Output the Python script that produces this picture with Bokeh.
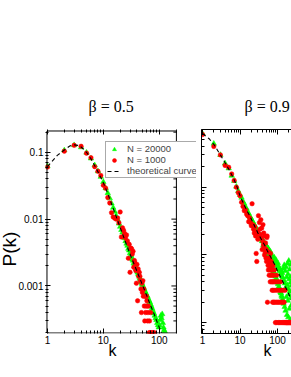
from bokeh.plotting import figure
from bokeh.models import (LogAxis, Legend, LegendItem, CustomJSTickFormatter, Range1d, LogTicker,
                          FixedTicker, Title, BoxAnnotation)
from bokeh.layouts import row
from bokeh.embed import file_html
from bokeh.resources import INLINE

L_TITLE = "β = 0.5"
R_TITLE = "β = 0.9"
X_LABEL = "k"
Y_LABEL = "P(k)"
LEGEND_LABELS = ["N = 20000", "N = 1000", "theoretical curve"]

L_CURVE_K = [1, 1.5, 2, 2.5, 3, 3.5, 4, 5, 6, 7, 8, 9, 10, 12, 15, 20, 25, 30, 40, 50, 60, 70, 80, 90, 100, 110]
L_CURVE_P = [0.061, 0.09, 0.108, 0.124, 0.129, 0.127, 0.12, 0.1, 0.08, 0.063, 0.051, 0.042, 0.035, 0.024, 0.0145,
             0.0075, 0.0045, 0.0030, 0.00165, 0.00104, 0.00071, 0.00051, 0.00039, 0.00030, 0.00024, 0.0002]

L_G_K = [1, 2, 3, 4, 5, 6, 7, 8, 9, 10, 11, 12, 13, 14, 15, 16, 17, 18, 19, 20,
         21, 22, 23, 24, 25, 26, 27, 28, 29, 30, 31, 32, 33, 34, 35, 36, 37, 38, 39, 40,
         41, 42, 43, 44, 45, 46, 47, 48, 49, 50, 52, 54, 56, 58, 60, 62, 64, 66, 68, 70,
         72, 74, 76, 78, 80, 83, 86, 89, 92, 95, 98, 101, 104, 107, 110, 113, 116, 119, 122, 125]
L_G_P = [0.062, 0.107, 0.128, 0.119, 0.099, 0.081, 0.064, 0.052, 0.043, 0.036, 0.029, 0.0245, 0.0205, 0.0172,
         0.0148, 0.0129, 0.0112, 0.0099, 0.0086, 0.0077, 0.0069, 0.0063, 0.0057, 0.0052, 0.0047, 0.0043, 0.0040,
         0.0036, 0.0034, 0.0031, 0.0029, 0.0027, 0.0025, 0.0024, 0.0022, 0.0021, 0.0020, 0.0019, 0.0018, 0.0017,
         0.0016, 0.00152, 0.00146, 0.00138, 0.0013, 0.00126, 0.00118, 0.00114, 0.00108, 0.00104, 0.00097, 0.0009,
         0.00083, 0.00078, 0.00072, 0.00069, 0.00064, 0.0006, 0.00057, 0.00053, 0.0005, 0.00047, 0.00044, 0.00041,
         0.00039, 0.00036, 0.00033, 0.00031, 0.00028, 0.00026, 0.00024, 0.00026, 0.00031, 0.00036, 0.00033,
         0.00038, 0.00028, 0.00024, 0.00022, 0.00021]

L_R_K = [1, 2, 3, 4, 5, 6, 7, 8, 9, 10, 11, 12, 13, 14, 15, 16, 17, 18, 19, 20,
         21, 22, 23, 24, 25, 26, 27, 28, 29, 30, 31, 32, 33, 34, 35, 36, 37, 38, 39, 40,
         41, 42, 43, 44, 45, 46, 47, 48, 49, 50, 51, 52, 53, 54, 55, 56, 57, 58, 59, 60,
         61, 62, 63, 64, 66, 67, 68, 70, 72, 75, 78, 82]
L_R_P = [0.060, 0.104, 0.127, 0.123, 0.097, 0.083, 0.061, 0.052, 0.045, 0.032, 0.029, 0.021, 0.0175, 0.0125,
         0.0108, 0.0103, 0.0100, 0.0104, 0.0088, 0.0128, 0.0054, 0.0074, 0.0068, 0.0061, 0.0052, 0.0058, 0.0047,
         0.0026, 0.0042, 0.0016, 0.0037, 0.0036, 0.0030, 0.0033, 0.0019, 0.0024, 0.0022, 0.0017, 0.0011, 0.0021,
         0.0006, 0.0018, 0.0014, 0.0016, 0.0014, 0.0012, 0.0009, 0.0004, 0.0011, 0.0008, 0.0012, 0.0007, 0.0009,
         0.0005, 0.0003, 0.0007, 0.0004, 0.0005, 0.0007, 0.0006, 0.0005, 0.0003, 0.0004, 0.0005, 0.0002, 0.0003,
         0.0002, 0.0004, 0.0002, 0.0002, 0.0002, 0.0002]

R_CURVE_K = [1, 1.5, 2, 3, 4, 5, 6, 7, 8, 10, 13, 16, 20, 25, 30, 38, 46, 53, 60, 70, 85, 100, 120, 150, 190, 240]
R_CURVE_P = [0.62, 0.52, 0.43, 0.30, 0.23, 0.185, 0.153, 0.128, 0.108, 0.075, 0.054, 0.043, 0.034, 0.026, 0.021,
             0.0165, 0.0138, 0.0116, 0.0102, 0.0087, 0.0071, 0.0058, 0.0047, 0.0037, 0.0028, 0.0021]

R_G_K = [1, 2, 3, 4, 5, 6, 7, 8, 9, 10, 11, 12, 13, 14, 15, 16, 17, 18, 19, 20,
         21, 22, 23, 24, 25, 26, 27, 28, 29, 30, 31, 32, 33, 34, 35, 36, 37, 38, 39, 40,
         41, 42, 43, 44, 45, 46, 47, 48, 49, 50, 51, 52, 53, 54, 55, 56, 57, 58, 59, 60,
         61, 62, 63, 64, 65, 66, 67, 68, 69, 70, 71, 72, 73, 74, 75, 76, 77, 78, 79, 80,
         82, 84, 86, 88, 90, 92, 94, 96, 98, 100, 102, 104, 106, 108, 110, 112, 114, 116, 118, 120,
         122, 124, 126, 128, 130, 132, 134, 136, 138, 140, 143, 146, 149, 152, 155, 158, 161, 164, 167, 170,
         173, 176, 179, 182, 185, 188, 191, 194, 197, 200, 203, 206, 209, 212, 215, 218, 221, 224, 227, 230,
         233, 236]
R_G_P = [0.62, 0.44, 0.30, 0.225, 0.19, 0.148, 0.124, 0.102, 0.088, 0.077, 0.070, 0.061, 0.057, 0.050, 0.048,
         0.043, 0.041, 0.037, 0.036, 0.034, 0.0318, 0.031, 0.0288, 0.028, 0.0262, 0.0258, 0.024, 0.0238, 0.0222,
         0.0221, 0.0206, 0.0205, 0.0192, 0.0193, 0.018, 0.0181, 0.0169, 0.017, 0.016, 0.0159,
         0.0162, 0.0139, 0.0158, 0.0131, 0.0149, 0.0127, 0.0141, 0.0118, 0.0139, 0.0121, 0.0133, 0.0109, 0.0128,
         0.0104, 0.0121, 0.0098, 0.0125, 0.0094, 0.0112, 0.0089, 0.0116, 0.0084, 0.0106, 0.0079, 0.0111, 0.0077,
         0.0098, 0.0071, 0.0102, 0.0069, 0.0094, 0.0066, 0.0091, 0.0062, 0.0088, 0.0059, 0.0085, 0.0057, 0.0083,
         0.0055,
         0.0092, 0.0052, 0.0079, 0.0048, 0.0085, 0.0045, 0.0074, 0.0043, 0.0069, 0.0039, 0.0076, 0.0037, 0.0062,
         0.0034, 0.0066, 0.0032, 0.0058, 0.0030, 0.0061, 0.0028, 0.0053, 0.0027, 0.0057, 0.0025, 0.0049, 0.0024,
         0.0054, 0.0022, 0.0046, 0.0021,
         0.0063, 0.0019, 0.0042, 0.0071, 0.0017, 0.0038, 0.0058, 0.0015, 0.0033, 0.0066, 0.0024, 0.0047, 0.0013,
         0.0036, 0.0075, 0.0021, 0.0052, 0.0012, 0.0031, 0.0082, 0.0026, 0.0044, 0.0016, 0.0061, 0.0029, 0.0011,
         0.0039, 0.0072, 0.0023, 0.0048, 0.0018, 0.0035]

R_R_K = [1, 2, 3, 4, 5, 6, 7, 8, 9, 10, 11, 12, 13, 14, 15, 16, 17, 18, 19, 20,
         21, 22, 23, 24, 25, 26, 27, 28, 29, 30, 31, 32, 33, 34, 35, 36, 37, 38, 39, 40,
         41, 42, 43, 44, 45, 46, 47, 48, 49, 50, 51, 52, 53, 54, 55, 56, 57, 58, 59, 60,
         61, 62, 63, 64, 65, 66, 67, 68, 69, 70, 71, 72, 73, 74, 75, 76, 77, 78, 79, 80,
         82, 84, 86, 88, 90, 92, 94, 96, 98, 100, 103, 106, 109, 112, 115, 118, 121, 124, 127, 130,
         134, 138, 142, 146, 150, 155, 160, 165, 170, 176, 182, 188, 195, 202, 210, 218, 226, 234]
R_R_P = [0.60, 0.40, 0.30, 0.21, 0.197, 0.157, 0.126, 0.10, 0.083, 0.075, 0.060, 0.052, 0.045, 0.046, 0.040,
         0.038, 0.031, 0.035, 0.030, 0.027, 0.057, 0.028, 0.024, 0.021, 0.026, 0.019, 0.0105, 0.008, 0.022, 0.017,
         0.038, 0.020, 0.030, 0.024, 0.020, 0.033, 0.018, 0.025, 0.012, 0.016, 0.028, 0.014, 0.021, 0.013, 0.010,
         0.019, 0.011, 0.015, 0.009, 0.012, 0.008, 0.018, 0.019, 0.002, 0.009, 0.007, 0.006, 0.011, 0.008, 0.005,
         0.007, 0.009, 0.006, 0.004, 0.0105, 0.005, 0.007, 0.008, 0.006, 0.004, 0.005, 0.003, 0.006, 0.002, 0.004,
         0.007, 0.003, 0.005, 0.002, 0.004,
         0.006, 0.002, 0.003, 0.001, 0.004, 0.002, 0.005, 0.001, 0.003, 0.002, 0.004, 0.001, 0.002, 0.003, 0.001,
         0.002, 0.004, 0.001, 0.003, 0.002,
         0.001, 0.002, 0.003, 0.001, 0.002, 0.001, 0.003, 0.001, 0.001, 0.001, 0.001, 0.001, 0.001, 0.001, 0.001,
         0.001, 0.001, 0.001]

GREEN = "#00ff00"
RED = "#ff0000"
SANS = "Liberation Sans"
SERIF = "Liberation Serif"
LABEL_JS = "return Number(tick.toPrecision(6)).toString();"
EMPTY_JS = "return '';"


# pixel <-> value helpers (layout geometry of the two panels)
def lk(px):
    return 10 ** ((px - 44) / 57.0)


def lp(py):
    return 0.1 * 10 ** ((151 - py) / 67.5)


def rk(px):
    return 10 ** ((px - 202) / 37.5)


def rp(py):
    return 0.1 * 10 ** ((186.7 - py) / 67.7)


L_KMAX = lk(175.5)   # right edge of the visible left panel


def style_axis(ax, labels, line=True, ticker=None):
    ax.ticker = ticker if ticker is not None else LogTicker(num_minor_ticks=10)
    ax.major_tick_in = 5
    ax.major_tick_out = 0
    ax.minor_tick_in = 3
    ax.minor_tick_out = 0
    ax.axis_line_color = "black" if line else None
    ax.major_tick_line_color = "black"
    ax.minor_tick_line_color = "black"
    ax.major_label_text_font = SANS
    ax.major_label_text_font_size = "10px"
    ax.major_label_text_color = "black"
    ax.major_label_standoff = 2
    ax.formatter = CustomJSTickFormatter(code=LABEL_JS if labels else EMPTY_JS)


def left_x_ticker():
    majors = [10.0 ** e for e in range(0, 3)]
    minors = [m * 10.0 ** e for e in range(0, 3) for m in range(2, 10) if m * 10.0 ** e < L_KMAX]
    return FixedTicker(ticks=majors, minor_ticks=minors)


def text_title(text, align, offset, font, size, standoff, valign="bottom"):
    return Title(text=text, align=align, offset=offset, text_font=font, text_font_size=size,
                 text_font_style="normal", text_color="black", standoff=standoff,
                 vertical_align=valign)


# ---------------- left panel (beta = 0.5) ----------------
pl = figure(width=196, height=377, x_axis_type="log", y_axis_type="log",
            x_range=Range1d(lk(42), lk(196)), y_range=Range1d(lp(334), lp(128)),
            output_backend="svg", toolbar_location=None,
            min_border_left=42, min_border_right=0, min_border_top=128, min_border_bottom=43)
pl.grid.visible = False
pl.outline_line_color = None
pl.background_fill_color = "white"
pl.border_fill_color = "white"
style_axis(pl.xaxis[0], True, line=False, ticker=left_x_ticker())
style_axis(pl.yaxis[0], True, line=False)
top_l = LogAxis()
style_axis(top_l, False, line=False, ticker=left_x_ticker())
pl.add_layout(top_l, "above")

gl = pl.scatter(L_G_K, L_G_P, marker="triangle", size=5.5, fill_color=GREEN, line_color=GREEN, line_width=0.5)
rl = pl.scatter(L_R_K, L_R_P, marker="circle", size=4.5, fill_color=RED, line_color=RED, line_width=0.5)
cl = pl.line(L_CURVE_K, L_CURVE_P, line_color="black", line_width=1.1, line_dash="4 3")

# inward ticks of the panel's right edge
major_vals = [10.0 ** e for e in range(-3, 0)]
minor_vals = [m * 10.0 ** e for e in range(-4, 0) for m in range(2, 10)
              if lp(333) < m * 10.0 ** e < lp(129)]
pl.scatter([L_KMAX] * len(major_vals), major_vals, marker="dash", size=10, line_color="black", line_width=1)
pl.scatter([L_KMAX] * len(minor_vals), minor_vals, marker="dash", size=6, line_color="black", line_width=1)

# blank gap to the right of the panel, then the panel border
pl.add_layout(BoxAnnotation(left=lk(176), fill_color="white", fill_alpha=1, line_color=None,
                            level="annotation"))
pl.add_layout(BoxAnnotation(left=lk(43.5), right=L_KMAX, bottom=lp(333.5), top=lp(129.5),
                            fill_color=None, fill_alpha=0, line_color="black", line_width=1,
                            line_alpha=1, level="annotation"))

legend = Legend(items=[LegendItem(label=LEGEND_LABELS[0], renderers=[gl]),
                       LegendItem(label=LEGEND_LABELS[1], renderers=[rl]),
                       LegendItem(label=LEGEND_LABELS[2], renderers=[cl])],
                location=(60, 155), label_text_font=SANS, label_text_font_size="9.5px",
                label_height=10, glyph_height=10, glyph_width=14, label_standoff=6,
                padding=1, spacing=0, margin=0, border_line_color="#555555",
                border_line_width=1, background_fill_color="white", background_fill_alpha=1,
                level="overlay")
pl.add_layout(legend)

pl.add_layout(text_title(L_TITLE, "left", 43, SERIF, "16px", 30), "above")
pl.add_layout(text_title(X_LABEL, "left", 63, SANS, "16px", -9, "top"), "below")
pl.add_layout(text_title(Y_LABEL, "left", 67, SANS, "19px", -8), "left")

# ---------------- right panel (beta = 0.9) ----------------
pr = figure(width=95, height=377, x_axis_type="log", y_axis_type="log",
            x_range=Range1d(rk(201), rk(291)), y_range=Range1d(rp(333), rp(129)),
            output_backend="svg", toolbar_location=None,
            min_border_left=5, min_border_right=0, min_border_top=129, min_border_bottom=44)
pr.grid.visible = False
pr.outline_line_color = None
pr.background_fill_color = "white"
pr.border_fill_color = "white"
style_axis(pr.xaxis[0], True)
style_axis(pr.yaxis[0], False)
top_r = LogAxis()
style_axis(top_r, False)
pr.add_layout(top_r, "above")

pr.scatter(R_G_K, R_G_P, marker="triangle", size=5.5, fill_color=GREEN, line_color=GREEN, line_width=0.5)
pr.scatter(R_R_K, R_R_P, marker="circle", size=4.5, fill_color=RED, line_color=RED, line_width=0.5)
pr.line(R_CURVE_K, R_CURVE_P, line_color="black", line_width=1.1, line_dash="4 3")

pr.add_layout(text_title(R_TITLE, "left", 43, SERIF, "16px", 30), "above")
pr.add_layout(text_title(X_LABEL, "left", 62, SANS, "16px", -9, "top"), "below")

layout = row(pl, pr, spacing=0)
open("out.html", "w").write(file_html(layout, INLINE))
